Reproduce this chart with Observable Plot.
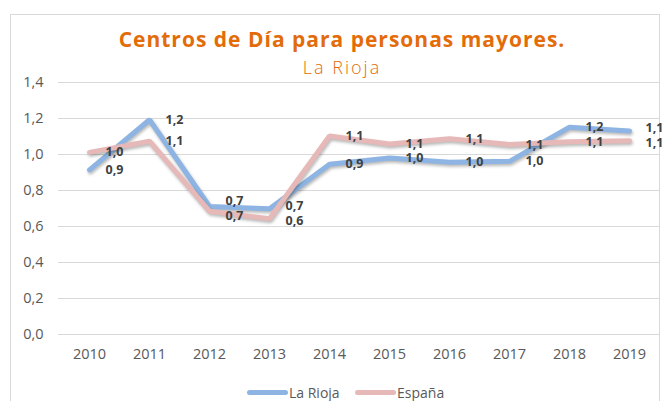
<!DOCTYPE html>
<html>
<head>
<meta charset="utf-8">
<script src="https://cdn.jsdelivr.net/npm/d3@7"></script>
<script src="https://cdn.jsdelivr.net/npm/@observablehq/plot@0.6"></script>
<style>
  html, body { margin: 0; padding: 0; background: #fff; }
  #wrap { position: relative; width: 664px; height: 401px; overflow: hidden; font-family: "Open Sans", sans-serif; }
  #frame { position: absolute; left: 10px; top: 14px; width: 650px; height: 420px; border: 1px solid #D9D9D9; box-sizing: border-box; }
  #title { position: absolute; left: 0; width: 684px; top: 24.5px; text-align: center; color: #E36C09; font-weight: 700; font-size: 21px; letter-spacing: 1px; line-height: 28px; white-space: nowrap; }
  #subtitle { position: absolute; left: 0; width: 684px; top: 53px; text-align: center; color: #E36C09; font-weight: 300; font-size: 18px; letter-spacing: 2px; line-height: 28px; white-space: nowrap; }
  #chart { position: absolute; left: 0; top: 0; }
  .shadowed path { filter: drop-shadow(1.5px 2px 1.5px rgba(0,0,0,0.28)); }
  #legend { position: absolute; top: 383px; left: 0; width: 664px; font-size: 14px; color: #595959; }
  .lg { position: absolute; display: flex; align-items: center; white-space: nowrap; }
  .sw { width: 41px; height: 5px; border-radius: 3px; margin-right: 1px; }
</style>
</head>
<body>
<div id="wrap">
  <div id="frame"></div>
  <div id="chart"></div>
  <div id="title">Centros de Día para personas mayores.</div>
  <div id="subtitle">La Rioja</div>
  <div id="legend"></div>
</div>
<script>
const years = ["2010","2011","2012","2013","2014","2015","2016","2017","2018","2019"];
const laRioja = [0.915, 1.193, 0.711, 0.698, 0.946, 0.980, 0.957, 0.962, 1.152, 1.131];
const espana  = [1.012, 1.074, 0.685, 0.643, 1.103, 1.058, 1.087, 1.055, 1.071, 1.077];
const seriesNames = ["La Rioja", "España"];
const seriesColors = ["#8DB4E2", "#E6B9B8"];
const yTicks = [0, 0.2, 0.4, 0.6, 0.8, 1.0, 1.2, 1.4];

const fmt = v => d3.format(".1f")(v).replace(".", ",");

const rows = [];
years.forEach((yr, i) => {
  rows.push({year: yr, value: laRioja[i], series: seriesNames[0]});
  rows.push({year: yr, value: espana[i], series: seriesNames[1]});
});

// label positions: keep labels at their point, spread apart when too close
const minGap = 0.082;
const labels = years.flatMap((yr, i) => {
  const a = laRioja[i], b = espana[i];
  let ya = a, yb = b;
  if (Math.abs(a - b) < minGap) {
    const mid = (a + b) / 2;
    if (a >= b) { ya = mid + minGap / 2; yb = mid - minGap / 2; }
    else { ya = mid - minGap / 2; yb = mid + minGap / 2; }
  }
  return [
    {year: yr, ly: ya, text: fmt(a)},
    {year: yr, ly: yb, text: fmt(b)}
  ];
});

const chart = Plot.plot({
  width: 664,
  height: 401,
  marginTop: 82,
  marginBottom: 67,
  marginLeft: 58,
  marginRight: 5,
  style: {fontFamily: "Open Sans, sans-serif", fontSize: "14.5px", color: "#595959", background: "transparent"},
  x: {type: "point", domain: years, padding: 0.5, label: null},
  y: {domain: [0, 1.4], label: null},
  marks: [
    Plot.ruleY(yTicks, {stroke: "#D9D9D9", strokeWidth: 1}),
    Plot.axisY(yTicks, {tickSize: 0, tickPadding: 15, tickFormat: fmt, label: null}),
    Plot.axisX({tickSize: 0, tickPadding: 14, label: null}),
    Plot.line(rows.filter(d => d.series === seriesNames[0]), {x: "year", y: "value", stroke: seriesColors[0], strokeWidth: 5, strokeLinecap: "round", strokeLinejoin: "miter", className: "shadowed"}),
    Plot.line(rows.filter(d => d.series === seriesNames[1]), {x: "year", y: "value", stroke: seriesColors[1], strokeWidth: 5, strokeLinecap: "round", strokeLinejoin: "miter", className: "shadowed"}),
    Plot.text(labels, {x: "year", y: "ly", text: "text", dx: 16, textAnchor: "start", fill: "#404040", fontWeight: 700, fontSize: 12.5})
  ]
});
document.getElementById("chart").appendChild(chart);

const legend = document.getElementById("legend");
const lgX = [247, 355];
seriesNames.forEach((name, i) => {
  const el = document.createElement("div");
  el.className = "lg";
  el.style.left = lgX[i] + "px";
  el.innerHTML = `<span class="sw" style="background:${seriesColors[i]}"></span><span>${name}</span>`;
  legend.appendChild(el);
});
</script>
</body>
</html>
